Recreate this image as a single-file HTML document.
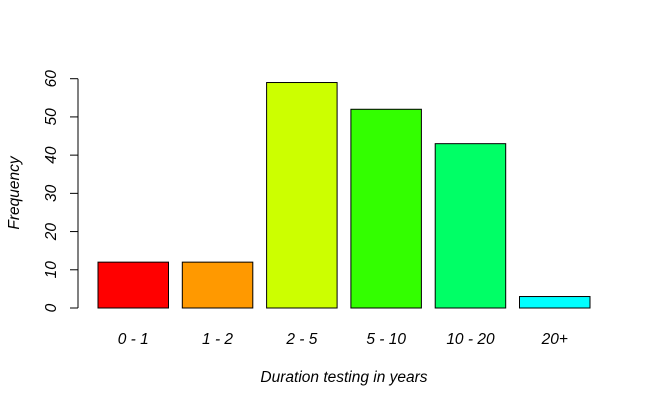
<!DOCTYPE html>
<html><head><meta charset="utf-8"><style>
body{margin:0;background:#fff}
svg{display:block;font-family:"Liberation Sans",Arial,sans-serif;font-style:italic}
</style></head><body>
<svg id="chart" width="650" height="406" viewBox="0 0 650 406" xmlns="http://www.w3.org/2000/svg">
<g id="bars"></g><g id="yaxis"></g><g id="xlabels"></g>
<text x="344" y="382" text-anchor="middle" font-size="15.5">Duration testing in years</text>
<text transform="translate(19,193) rotate(-90)" text-anchor="middle" font-size="15.5">Frequency</text>
</svg>
<script>
const categories=["0 - 1","1 - 2","2 - 5","5 - 10","10 - 20","20+"];
const values=[12,12,59,52,43,3];
const colors=["#ff0000","#ff9900","#ccff00","#33ff00","#00ff66","#00ffff"];
const yTicks=[0,10,20,30,40,50,60];
const NS="http://www.w3.org/2000/svg";
const y0=308,yTop=78.7,yMax=60;
const y=v=>y0-(y0-yTop)*v/yMax;
const bx0=98,bstep=84.3,bw=70.5;
const x=i=>bx0+i*bstep;
function mk(t,a){const e=document.createElementNS(NS,t);for(const k in a)e.setAttribute(k,a[k]);return e;}
const bars=document.getElementById('bars'),xl=document.getElementById('xlabels'),ya=document.getElementById('yaxis');
values.forEach((v,i)=>{
 const r=mk('rect',{x:x(i),y:y(v),width:bw,height:y0-y(v),fill:colors[i],stroke:'#000','stroke-width':1});
 
 
 bars.appendChild(r);
 const t=mk('text',{x:x(i)+bw/2,y:344,'text-anchor':'middle','font-size':15.5});
 t.textContent=categories[i];
 
 
 xl.appendChild(t);
});
ya.appendChild(mk('line',{x1:78,x2:78,y1:y(0),y2:y(60),stroke:'#000'}));
yTicks.forEach(v=>{
 ya.appendChild(mk('line',{x1:70,x2:78,y1:y(v),y2:y(v),stroke:'#000'}));
 const t=mk('text',{transform:`translate(56,${y(v)}) rotate(-90)`,'text-anchor':'middle','font-size':15.5});
 t.textContent=v;
 
 
 ya.appendChild(t);
});
</script>
</body></html>
